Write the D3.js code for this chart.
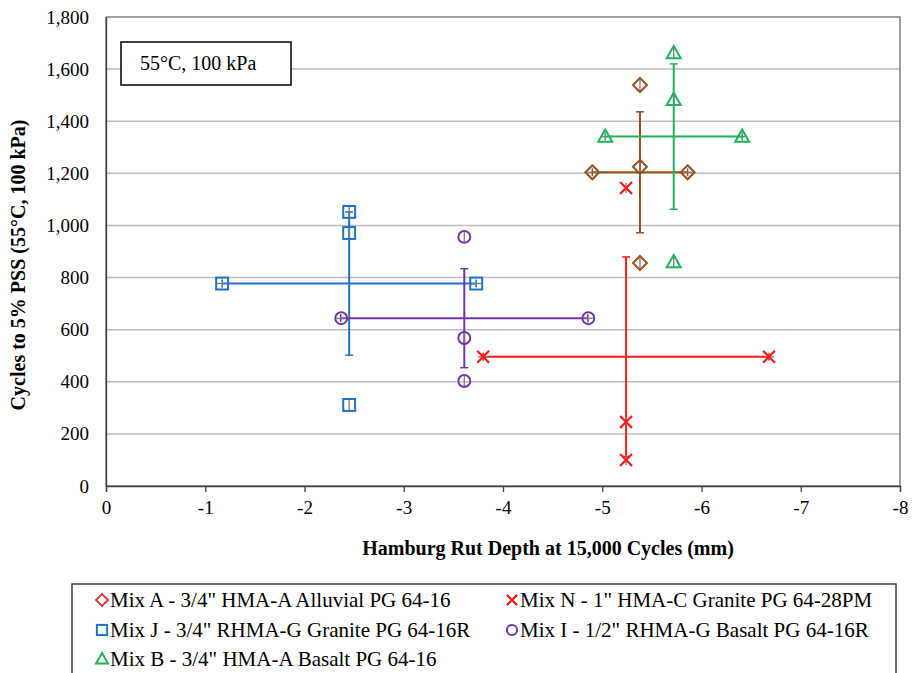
<!DOCTYPE html>
<html>
<head>
<meta charset="utf-8">
<script src="https://cdn.jsdelivr.net/npm/d3@7"></script>
<style>
  html, body { margin: 0; padding: 0; background: #fff; }
  svg text { font-family: "Liberation Serif", "Times New Roman", Times, "DejaVu Serif", serif; }
</style>
</head>
<body>
<svg id="chart" width="912" height="673"></svg>
<script>
// Series order (legend reads row by row): A, N, J, I, B
const mixLabels = [
  "Mix A - 3/4\" HMA-A Alluvial PG 64-16",
  "Mix N - 1\" HMA-C Granite PG 64-28PM",
  "Mix J - 3/4\" RHMA-G Granite PG 64-16R",
  "Mix I - 1/2\" RHMA-G Basalt PG 64-16R",
  "Mix B - 3/4\" HMA-A Basalt PG 64-16"
];
const mixSymbols = ["diamond", "cross", "square", "circle", "triangle"];

// Mean Hamburg rut depth (mm) and mean cycles to 5% PSS per mix
const meanRut = [-5.38, -5.24, -2.45, -3.61, -5.72];
const meanPss = [1204, 496, 777, 644, 1341];
// Standard deviations (error bar half-lengths)
const sdRut = [0.48, 1.44, 1.28, 1.245, 0.69];
const sdPss = [232, 383, 275, 190, 279];
// Individual PSS replicates, plotted at the mean rut depth
const pssReps = [
  [1539, 1225, 856],
  [1144, 246, 100],
  [1052, 971, 311],
  [956, 568, 403],
  [1662, 1482, 860]
];
// Individual rut depth replicates, plotted at the mean PSS cycles
const rutReps = [
  [-4.90, -5.86],
  [-3.80, -6.68],
  [-1.17, -3.73],
  [-2.37, -4.86],
  [-5.03, -6.41]
];

const xTicks = [0, -1, -2, -3, -4, -5, -6, -7, -8];
const yTicks = [0, 200, 400, 600, 800, 1000, 1200, 1400, 1600, 1800];

const colors = ["#9C4F1A", "#FF1A1A", "#1F74C2", "#7334A6", "#1FB45A"];
const legendColors = ["#D2423F", "#FF1A1A", "#1F74C2", "#7334A6", "#1FB45A"];

const FONT = "'Liberation Serif', 'Times New Roman', Times, 'DejaVu Serif', serif";

const svg = d3.select("#chart").attr("font-family", FONT);
const plot = { left: 106, right: 900, top: 17, bottom: 486 };

const x = d3.scaleLinear().domain([0, -8]).range([plot.left, plot.right]);
const y = d3.scaleLinear().domain([0, 1800]).range([plot.bottom, plot.top]);

// Gridlines
svg.append("g")
  .selectAll("line")
  .data(yTicks.filter(d => d > 0 && d < 1800))
  .join("line")
  .attr("x1", plot.left).attr("x2", plot.right)
  .attr("y1", d => y(d)).attr("y2", d => y(d))
  .attr("stroke", "#BDBDBD").attr("stroke-width", 1.5);

// Plot frame
svg.append("rect")
  .attr("x", plot.left).attr("y", plot.top)
  .attr("width", plot.right - plot.left).attr("height", plot.bottom - plot.top)
  .attr("fill", "none").attr("stroke", "#6E6E6E").attr("stroke-width", 1.3);

// X axis (plain hyphen for negative labels)
const xAxis = svg.append("g")
  .attr("transform", `translate(0,${plot.bottom})`)
  .call(d3.axisBottom(x).tickValues(xTicks).tickSize(6).tickPadding(9).tickFormat(d => String(d)));
xAxis.attr("font-family", FONT);
xAxis.select(".domain").attr("stroke", "#404040").attr("stroke-width", 1.3);
xAxis.selectAll(".tick line").attr("stroke", "#404040").attr("stroke-width", 1.3);
xAxis.selectAll(".tick text").attr("font-size", 19).attr("fill", "#000");

// Y axis
const yAxis = svg.append("g")
  .attr("transform", `translate(${plot.left},0)`)
  .call(d3.axisLeft(y).tickValues(yTicks).tickSize(0).tickPadding(17).tickFormat(d3.format(",")));
yAxis.attr("font-family", FONT);
yAxis.select(".domain").attr("stroke", "#404040").attr("stroke-width", 1.3);
yAxis.selectAll(".tick text").attr("font-size", 19).attr("fill", "#000");

// Axis titles
svg.append("text")
  .attr("x", 548).attr("y", 555)
  .attr("text-anchor", "middle")
  .attr("font-size", 20).attr("font-weight", "bold")
  .text("Hamburg Rut Depth at 15,000 Cycles (mm)");

svg.append("text")
  .attr("transform", "translate(25,265) rotate(-90)")
  .attr("text-anchor", "middle")
  .attr("font-size", 20).attr("font-weight", "bold")
  .text("Cycles to 5% PSS (55°C, 100 kPa)");

// Condition note
svg.append("rect")
  .attr("x", 121).attr("y", 42).attr("width", 170).attr("height", 43)
  .attr("fill", "#fff").attr("stroke", "#000").attr("stroke-width", 1.5);
svg.append("text")
  .attr("x", 140).attr("y", 70)
  .attr("font-size", 20)
  .text("55°C, 100 kPa");

// Marker drawing
function drawMarker(g, type, cx, cy, color, size) {
  const s = size;
  if (type === "diamond") {
    g.append("path")
      .attr("d", `M${cx},${cy - s}L${cx + s},${cy}L${cx},${cy + s}L${cx - s},${cy}Z`)
      .attr("fill", "none").attr("stroke", color).attr("stroke-width", 2);
  } else if (type === "square") {
    g.append("rect")
      .attr("x", cx - s * 0.85).attr("y", cy - s * 0.85)
      .attr("width", s * 1.7).attr("height", s * 1.7)
      .attr("fill", "none").attr("stroke", color).attr("stroke-width", 2);
  } else if (type === "circle") {
    g.append("circle")
      .attr("cx", cx).attr("cy", cy).attr("r", s * 0.85)
      .attr("fill", "none").attr("stroke", color).attr("stroke-width", 2);
  } else if (type === "triangle") {
    g.append("path")
      .attr("d", `M${cx},${cy - s}L${cx + s},${cy + s * 0.75}L${cx - s},${cy + s * 0.75}Z`)
      .attr("fill", "none").attr("stroke", color).attr("stroke-width", 2);
  } else if (type === "cross") {
    const c = s * 0.85;
    g.append("path")
      .attr("d", `M${cx - c},${cy - c}L${cx + c},${cy + c}M${cx + c},${cy - c}L${cx - c},${cy + c}`)
      .attr("fill", "none").attr("stroke", color).attr("stroke-width", 2.2);
  }
}

const marks = svg.append("g");
const cap = 4;

mixLabels.forEach((label, i) => {
  const g = marks.append("g");
  const col = colors[i];
  const cx = x(meanRut[i]), cy = y(meanPss[i]);
  const x0 = x(meanRut[i] - sdRut[i]), x1 = x(meanRut[i] + sdRut[i]);
  const y0 = y(meanPss[i] - sdPss[i]), y1 = y(meanPss[i] + sdPss[i]);

  // Horizontal error bar (rut depth)
  g.append("line").attr("x1", x0).attr("x2", x1).attr("y1", cy).attr("y2", cy)
    .attr("stroke", col).attr("stroke-width", 2);
  [x0, x1].forEach(xx => g.append("line")
    .attr("x1", xx).attr("x2", xx).attr("y1", cy - cap).attr("y2", cy + cap)
    .attr("stroke", col).attr("stroke-width", 1.5));

  // Vertical error bar (PSS cycles)
  g.append("line").attr("x1", cx).attr("x2", cx).attr("y1", y0).attr("y2", y1)
    .attr("stroke", col).attr("stroke-width", 2);
  [y0, y1].forEach(yy => g.append("line")
    .attr("x1", cx - cap).attr("x2", cx + cap).attr("y1", yy).attr("y2", yy)
    .attr("stroke", col).attr("stroke-width", 1.5));

  // PSS replicates at mean rut depth
  pssReps[i].forEach(v => {
    const py = y(v);
    g.append("line").attr("x1", cx).attr("x2", cx).attr("y1", py - 5).attr("y2", py + 5)
      .attr("stroke", "#7a7a7a").attr("stroke-width", 1.3);
    drawMarker(g, mixSymbols[i], cx, py, col, 7);
  });

  // Rut depth replicates at mean PSS cycles
  rutReps[i].forEach(v => {
    const px = x(v);
    g.append("line").attr("x1", px - 5).attr("x2", px + 5).attr("y1", cy).attr("y2", cy)
      .attr("stroke", "#7a7a7a").attr("stroke-width", 1.3);
    drawMarker(g, mixSymbols[i], px, cy, col, 7);
  });
});

// Legend
const legend = svg.append("g");
legend.append("rect")
  .attr("x", 72).attr("y", 584).attr("width", 824).attr("height", 100)
  .attr("fill", "#fff").attr("stroke", "#404040").attr("stroke-width", 1.5);

const legendPos = [
  { mx: 102, ty: 600 }, { mx: 512, ty: 600 },
  { mx: 102, ty: 630 }, { mx: 512, ty: 630 },
  { mx: 102, ty: 659 }
];
mixLabels.forEach((label, i) => {
  const p = legendPos[i];
  drawMarker(legend, mixSymbols[i], p.mx, p.ty, legendColors[i], 6);
  legend.append("text")
    .attr("x", p.mx + 8).attr("y", p.ty)
    .attr("dy", "0.35em")
    .attr("font-size", 21)
    .text(label);
});
</script>
</body>
</html>
